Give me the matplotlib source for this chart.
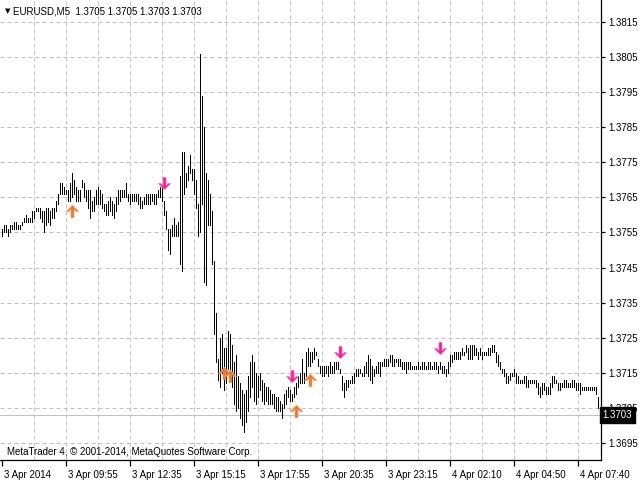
import matplotlib
matplotlib.use("Agg")
import matplotlib.pyplot as plt
from matplotlib.path import Path
from matplotlib.transforms import blended_transform_factory, ScaledTranslation

plt.rcParams['font.family'] = ['Liberation Sans', 'DejaVu Sans']

# ---- data: EURUSD M5 bar highs / lows (one per bar, left to right) ----
highs = [
    1.3756,1.3757,1.3757,1.3756,1.3757,1.3757,1.3758,1.3758,1.3757,1.3757,
    1.3758,1.3759,1.3760,1.3759,1.3759,1.3761,1.3761,1.3762,1.3762,1.3762,
    1.3761,1.3761,1.3762,1.3762,1.3761,1.3762,1.3762,1.3764,1.3766,1.3769,
    1.3769,1.3768,1.3767,1.3767,1.3769,1.3772,1.3770,1.3768,1.3767,1.3767,
    1.3770,1.3769,1.3767,1.3767,1.3767,1.3764,1.3765,1.3767,1.3768,1.3767,
    1.3766,1.3763,1.3763,1.3764,1.3765,1.3764,1.3763,1.3765,1.3767,1.3767,
    1.3767,1.3767,1.3769,1.3766,1.3766,1.3766,1.3766,1.3766,1.3766,1.3765,
    1.3764,1.3765,1.3766,1.3766,1.3766,1.3766,1.3766,1.3766,1.3767,1.3768,
    1.3768,1.3764,1.3761,1.3756,1.3756,1.3757,1.3759,1.3757,1.3758,1.3771,
    1.3778,1.3778,1.3772,1.3774,1.3777,1.3773,1.3773,1.3770,1.3763,1.3806,
    1.3794,1.3785,1.3772,1.3770,1.3766,1.3761,1.3747,1.3732,1.3719,1.3725,
    1.3726,1.3722,1.3722,1.3727,1.3726,1.3723,1.3718,1.3720,1.3714,1.3712,
    1.3710,1.3709,1.3710,1.3714,1.3718,1.3720,1.3718,1.3715,1.3714,1.3715,
    1.3713,1.3712,1.3711,1.3711,1.3710,1.3709,1.3709,1.3708,1.3708,1.3707,
    1.3706,1.3709,1.3710,1.3711,1.3710,1.3709,1.3711,1.3712,1.3714,1.3715,
    1.3719,1.3715,1.3721,1.3722,1.3721,1.3721,1.3722,1.3721,1.3719,1.3717,
    1.3717,1.3717,1.3717,1.3717,1.3718,1.3717,1.3718,1.3718,1.3718,1.3716,
    1.3714,1.3712,1.3713,1.3713,1.3713,1.3714,1.3715,1.3716,1.3716,1.3716,
    1.3715,1.3717,1.3718,1.3720,1.3719,1.3717,1.3716,1.3717,1.3718,1.3718,
    1.3718,1.3719,1.3719,1.3719,1.3720,1.3720,1.3719,1.3719,1.3719,1.3719,
    1.3718,1.3718,1.3718,1.3718,1.3718,1.3717,1.3717,1.3717,1.3718,1.3717,
    1.3718,1.3718,1.3717,1.3718,1.3718,1.3717,1.3718,1.3718,1.3717,1.3718,
    1.3717,1.3717,1.3716,1.3718,1.3720,1.3720,1.3721,1.3721,1.3721,1.3721,
    1.3722,1.3721,1.3723,1.3722,1.3723,1.3723,1.3723,1.3722,1.3721,1.3722,
    1.3721,1.3721,1.3721,1.3722,1.3722,1.3723,1.3723,1.3721,1.3720,1.3718,
    1.3716,1.3716,1.3715,1.3714,1.3715,1.3715,1.3716,1.3715,1.3714,1.3713,
    1.3713,1.3714,1.3714,1.3713,1.3713,1.3713,1.3713,1.3713,1.3712,1.3711,
    1.3712,1.3712,1.3711,1.3711,1.3712,1.3714,1.3714,1.3713,1.3712,1.3712,
    1.3712,1.3713,1.3713,1.3712,1.3712,1.3713,1.3713,1.3712,1.3712,1.3712,
    1.3711,1.3711,1.3711,1.3711,1.3711,1.3711,1.3711,1.3711,1.3708,1.3705,
]
lows = [
    1.3754,1.3755,1.3755,1.3754,1.3755,1.3756,1.3756,1.3756,1.3756,1.3756,
    1.3757,1.3758,1.3758,1.3758,1.3758,1.3758,1.3759,1.3761,1.3761,1.3759,
    1.3758,1.3755,1.3757,1.3758,1.3757,1.3759,1.3759,1.3761,1.3763,1.3766,
    1.3766,1.3766,1.3766,1.3764,1.3764,1.3765,1.3766,1.3764,1.3764,1.3764,
    1.3768,1.3765,1.3764,1.3762,1.3759,1.3761,1.3761,1.3763,1.3763,1.3763,
    1.3762,1.3761,1.3760,1.3760,1.3761,1.3760,1.3759,1.3761,1.3763,1.3764,
    1.3765,1.3765,1.3765,1.3764,1.3763,1.3764,1.3764,1.3764,1.3763,1.3762,
    1.3762,1.3763,1.3763,1.3763,1.3763,1.3764,1.3763,1.3763,1.3765,1.3765,
    1.3764,1.3760,1.3756,1.3750,1.3749,1.3754,1.3754,1.3754,1.3754,1.3746,
    1.3744,1.3766,1.3768,1.3770,1.3772,1.3770,1.3766,1.3762,1.3754,1.3755,
    1.3763,1.3741,1.3740,1.3757,1.3757,1.3746,1.3726,1.3718,1.3713,1.3711,
    1.3715,1.3710,1.3712,1.3716,1.3715,1.3711,1.3706,1.3704,1.3705,1.3702,
    1.3700,1.3698,1.3701,1.3704,1.3708,1.3711,1.3707,1.3706,1.3708,1.3710,
    1.3707,1.3706,1.3707,1.3706,1.3706,1.3706,1.3705,1.3704,1.3704,1.3704,
    1.3702,1.3705,1.3706,1.3708,1.3707,1.3707,1.3708,1.3709,1.3711,1.3712,
    1.3712,1.3712,1.3714,1.3717,1.3717,1.3718,1.3719,1.3720,1.3717,1.3715,
    1.3714,1.3714,1.3715,1.3714,1.3715,1.3715,1.3715,1.3716,1.3716,1.3715,
    1.3710,1.3708,1.3710,1.3711,1.3712,1.3712,1.3712,1.3714,1.3714,1.3715,
    1.3714,1.3714,1.3715,1.3714,1.3713,1.3712,1.3714,1.3715,1.3715,1.3714,
    1.3717,1.3717,1.3717,1.3717,1.3718,1.3717,1.3717,1.3718,1.3717,1.3717,
    1.3716,1.3716,1.3715,1.3716,1.3716,1.3716,1.3716,1.3716,1.3716,1.3716,
    1.3716,1.3716,1.3716,1.3716,1.3716,1.3716,1.3716,1.3716,1.3715,1.3716,
    1.3715,1.3715,1.3714,1.3715,1.3717,1.3718,1.3719,1.3719,1.3719,1.3719,
    1.3720,1.3720,1.3721,1.3719,1.3719,1.3719,1.3720,1.3720,1.3719,1.3720,
    1.3719,1.3720,1.3720,1.3720,1.3720,1.3721,1.3721,1.3718,1.3717,1.3716,
    1.3715,1.3714,1.3712,1.3712,1.3713,1.3714,1.3714,1.3712,1.3712,1.3712,
    1.3712,1.3712,1.3711,1.3711,1.3712,1.3712,1.3712,1.3711,1.3709,1.3708,
    1.3709,1.3710,1.3709,1.3709,1.3709,1.3711,1.3712,1.3712,1.3710,1.3710,
    1.3711,1.3711,1.3711,1.3711,1.3711,1.3711,1.3711,1.3710,1.3710,1.3709,
    1.3710,1.3710,1.3710,1.3710,1.3710,1.3710,1.3710,1.3709,1.3705,1.3703,
]

time_labels = ["3 Apr 2014", "3 Apr 09:55", "3 Apr 12:35", "3 Apr 15:15",
               "3 Apr 17:55", "3 Apr 20:35", "3 Apr 23:15", "4 Apr 02:10",
               "4 Apr 04:50", "4 Apr 07:40"]
time_label_bars = [0, 32, 64, 96, 128, 160, 192, 224, 256, 288]
grid_bars = [16, 32, 48, 64, 80, 96, 112, 128, 144, 160, 176, 192, 208,
             224, 240, 256, 272, 288]
price_ticks = [1.3695, 1.3705, 1.3715, 1.3725, 1.3735, 1.3745, 1.3755,
               1.3765, 1.3775, 1.3785, 1.3795, 1.3805, 1.3815]

up_arrow_bars = [35, 111, 114, 147, 154]
up_arrow_prices = [1.3761, 1.3715, 1.3714, 1.3704, 1.3713]
down_arrow_bars = [81, 145, 169, 219]
down_arrow_prices = [1.3769, 1.3714, 1.3721, 1.3722]

symbol = "EURUSD,M5"
last_ohlc = ["1.3705", "1.3705", "1.3703", "1.3703"]
last_price = 1.3703
copyright_text = "MetaTrader 4, \u00a9 2001-2014, MetaQuotes Software Corp."

# arrow marker shapes (thick arrow with chevron head)
up_path = Path([(0, 0.5), (0.5, 0.0), (0.3, 0.0), (0.12, 0.17),
                (0.12, -0.5), (-0.12, -0.5), (-0.12, 0.17), (-0.3, 0.0),
                (-0.5, 0.0), (0, 0.5)])
down_path = Path([(x, -y) for x, y in up_path.vertices])

# ---- figure ----
W, H = 640, 480
fig = plt.figure(figsize=(6.4, 4.8), dpi=100)
fig.patch.set_facecolor("white")
ax = fig.add_axes([0, 20 / H, 601 / W, 460 / H])
ax.set_facecolor("white")

n = len(highs)
ax.set_xlim(-1, n - 0.5)
ax.set_ylim(1.369015, 1.382127)

grid_kw = dict(color="#c0c0c0", lw=0.72, linestyle=(0, (4, 3)), zorder=1)
for p in price_ticks:
    ax.axhline(p, **grid_kw)
for b in grid_bars:
    ax.axvline(b, **grid_kw)

ax.axhline(last_price, color="#c0c0c0", lw=0.72, zorder=1.5)

ax.vlines(range(n), lows, highs, colors="black", lw=0.72, zorder=3,
          antialiased=False)

ax.plot(up_arrow_bars, up_arrow_prices, linestyle="none", marker=up_path,
        markersize=9, markerfacecolor="#ec7a2c", markeredgecolor="#f29a6a",
        markeredgewidth=0.4, zorder=4)
ax.plot(down_arrow_bars, down_arrow_prices, linestyle="none", marker=down_path,
        markersize=9, markerfacecolor="#ff1a96", markeredgecolor="#ff7ac0",
        markeredgewidth=0.4, zorder=4)

# axes frame
for s in ("top", "left"):
    ax.spines[s].set_visible(False)
for s in ("right", "bottom"):
    ax.spines[s].set_color("black")
    ax.spines[s].set_linewidth(0.9)

ax.yaxis.tick_right()
ax.set_yticks(price_ticks)
ax.set_yticklabels([f"{p:.4f}" for p in price_ticks])
ax.tick_params(axis="y", direction="out", length=3, width=0.9, pad=2,
               labelsize=7, colors="black")

ax.set_xticks(time_label_bars)
ax.set_xticklabels(time_labels)
ax.tick_params(axis="x", direction="out", length=4, width=0.9, pad=3,
               labelsize=7, colors="black")
offset = ScaledTranslation(2 / 100, 0, fig.dpi_scale_trans)
for lbl in ax.get_xticklabels():
    lbl.set_ha("left")
    lbl.set_transform(lbl.get_transform() + offset)

# current price box on the axis
trans = blended_transform_factory(ax.transAxes, ax.transData)
ax.text(1.003, last_price, f"{last_price:.4f}", transform=trans, color="white",
        fontsize=7, ha="left", va="center", zorder=10, clip_on=False,
        bbox=dict(boxstyle="square,pad=0.3", facecolor="black",
                  edgecolor="black"))

# header and footer text
fig.text(8 / W, 1 - 11 / H, "\u25bc", fontsize=5, family="DejaVu Sans",
         ha="center", va="center", color="black")
fig.text(13 / W, 1 - 11 / H, f"{symbol}  " + " ".join(last_ohlc),
         fontsize=7, ha="left", va="center", color="black")
fig.text(7 / W, 1 - 452 / H, copyright_text, fontsize=7, ha="left",
         va="center", color="black")

fig.savefig("out.png", dpi=100)
